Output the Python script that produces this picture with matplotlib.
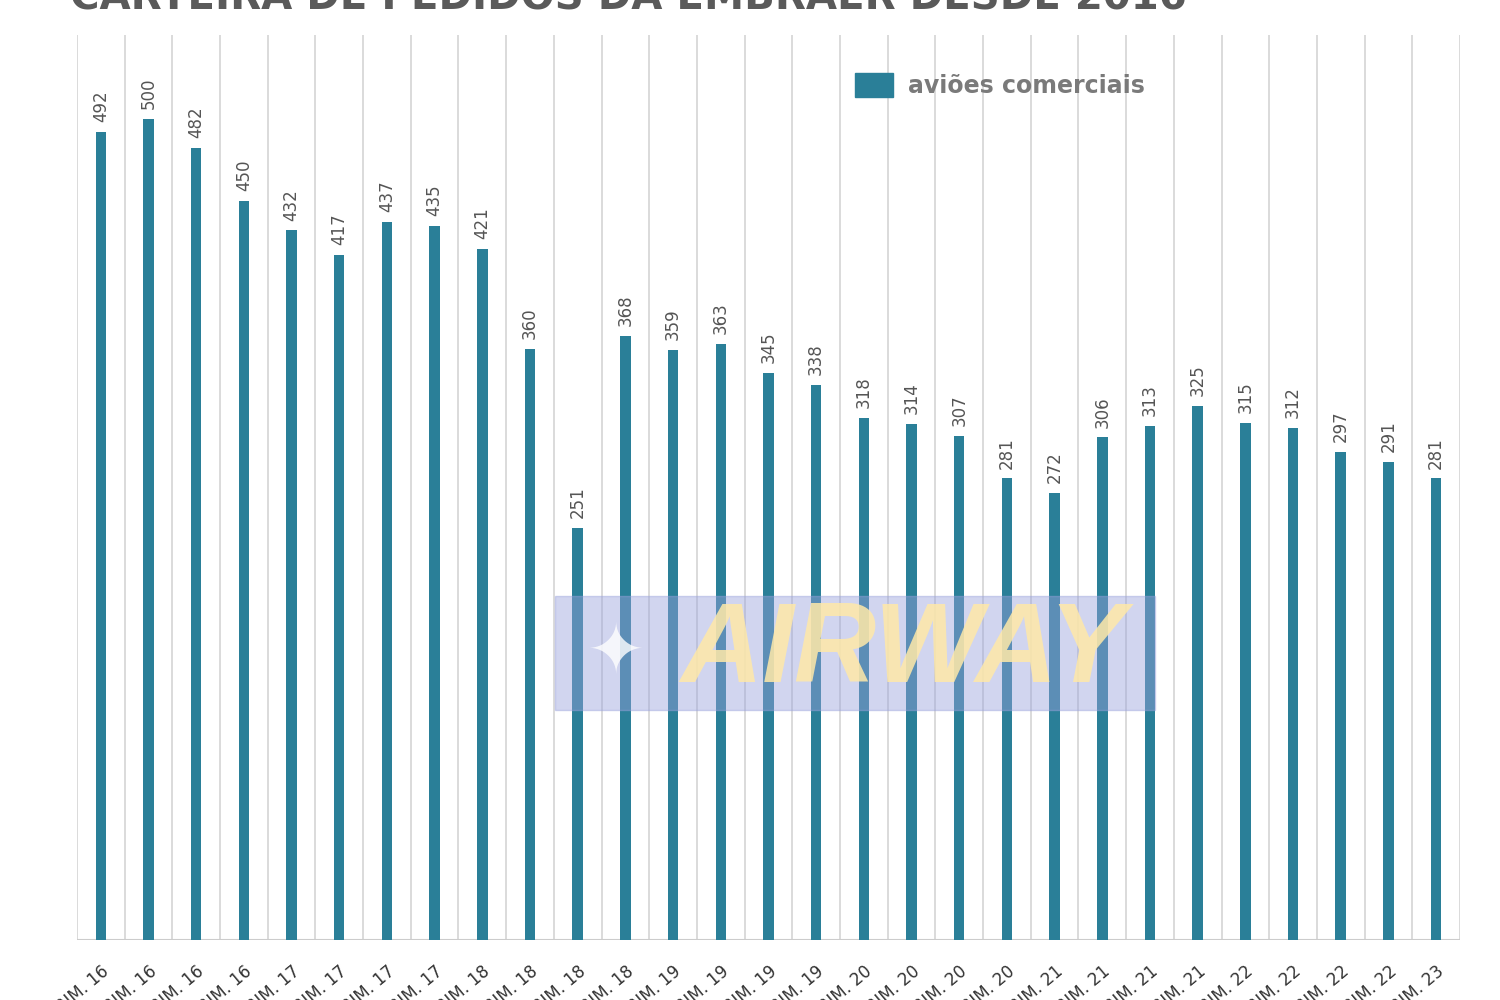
import matplotlib
matplotlib.use("Agg")
import matplotlib.pyplot as plt
from matplotlib.patches import Rectangle

quarters = ["1º", "2º", "3º", "4º"]
years = ["16", "17", "18", "19", "20", "21", "22", "23"]
categories = [f"{q} TRIM. {y}" for y in years for q in quarters][:29]
values = [492, 500, 482, 450, 432, 417, 437, 435, 421, 360, 251, 368, 359, 363,
          345, 338, 318, 314, 307, 281, 272, 306, 313, 325, 315, 312, 297, 291, 281]
series_name = "aviões comerciais"
title = "CARTEIRA DE PEDIDOS DA EMBRAER DESDE 2016"

bar_color = "#2a7f98"
cond = ["DejaVu Sans"]

fig = plt.figure(figsize=(15, 10), dpi=100)
fig.patch.set_facecolor("white")
ax = fig.add_axes([0.0513, 0.06, 0.922, 0.905])

x = list(range(len(values)))
ax.bar(x, values, width=0.22, color=bar_color, zorder=3)
for xi, v in zip(x, values):
    ax.text(xi, v + 6, str(v), rotation=90, ha="center", va="bottom",
            fontsize=12, color="#555555", family=["DejaVu Sans"], zorder=4)

ax.set_xlim(-0.5, len(values) - 0.5)
ax.set_ylim(0, 551)
for b in range(len(values) + 1):
    ax.axvline(b - 0.5, color="#d4d4d4", lw=1.2, zorder=1)
ax.axhline(0, color="#cccccc", lw=1.5, zorder=2)
for s in ax.spines.values():
    s.set_visible(False)
ax.set_yticks([])
ax.set_xticks(x)
ax.set_xticklabels(categories, rotation=40, ha="right", va="top",
                   rotation_mode="anchor", fontsize=12, color="#333333",
                   family=["DejaVu Sans"])
ax.tick_params(axis="x", length=0, pad=16)

# legend
fig.patches.append(Rectangle((855 / 1500, 1 - 97 / 1000), 38 / 1500, 24 / 1000,
                             transform=fig.transFigure, color=bar_color, zorder=5))
fig.text(908 / 1500, 1 - 86 / 1000, series_name, fontsize=17, fontweight="bold",
         color="#7a7a7a", family=cond, va="center", ha="left")

# title (partly cut off at top)
fig.text(70 / 1500, 0.99, title, fontsize=29, fontweight="bold", color="#5a5a5a",
         family=cond, va="baseline", ha="left")

# watermark
fig.patches.append(Rectangle((555 / 1500, 1 - 710 / 1000), 600 / 1500, 114 / 1000,
                             transform=fig.transFigure, color="#9aa2dc", alpha=0.45,
                             zorder=6))
fig.text(903 / 1500, 1 - 653 / 1000, "AIRWAY", fontsize=82, fontweight="bold",
         style="italic", color="#ffe9a8", alpha=0.85, family=["Liberation Sans", "DejaVu Sans"],
         ha="center", va="center", zorder=7)
fig.text(615 / 1500, 1 - 653 / 1000, "✦", fontsize=50, color="white", alpha=0.8,
         ha="center", va="center", zorder=7)

fig.savefig("out.png", dpi=100)
